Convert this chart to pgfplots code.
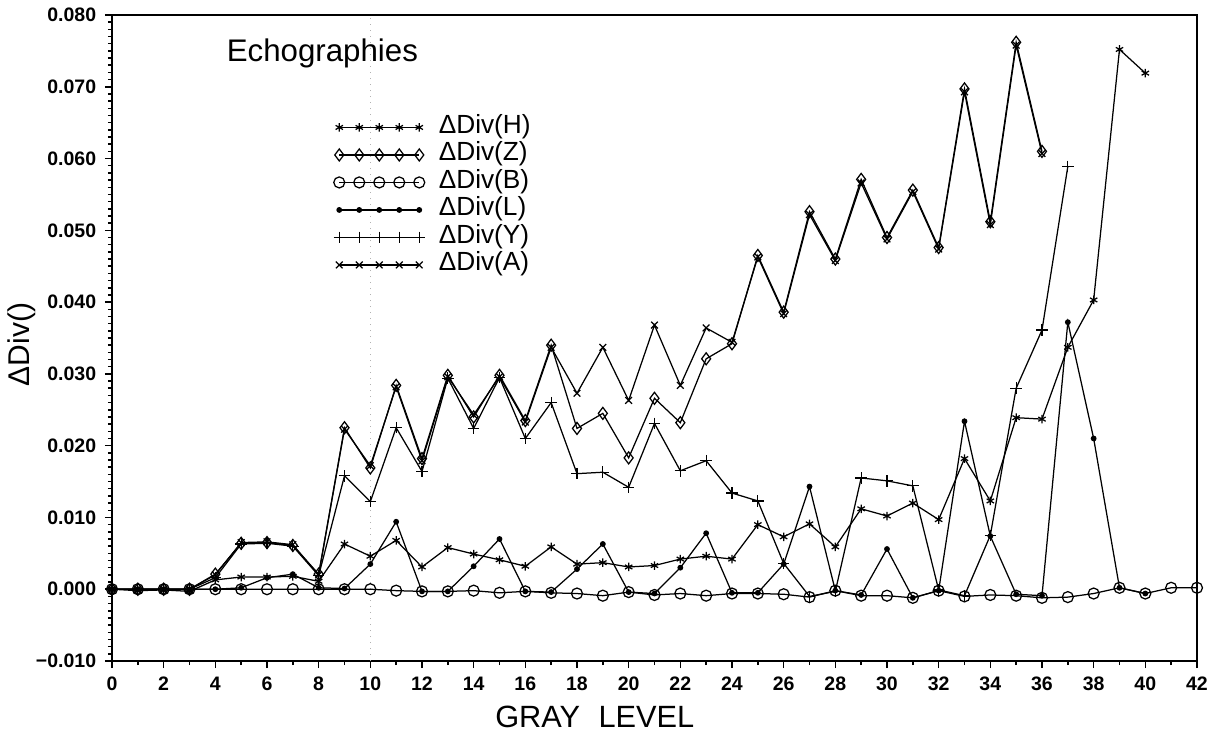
\documentclass[border=0pt]{standalone}
\usepackage{fontspec}
\setmainfont{Liberation Sans}
\usepackage{pgfplots}
\pgfplotsset{compat=1.18}
\usepackage{pgfplotstable}

\pgfplotstableread{
g v
0 0
1 -0.0002
2 -0.0001
3 -0.0003
4 0.0013
5 0.0017
6 0.0017
7 0.0018
8 0.0011
9 0.0063
10 0.0046
11 0.0068
12 0.0031
13 0.0058
14 0.0049
15 0.0041
16 0.0032
17 0.0059
18 0.0035
19 0.0037
20 0.0031
21 0.0033
22 0.0042
23 0.0046
24 0.0042
25 0.0090
26 0.0073
27 0.0091
28 0.0059
29 0.0112
30 0.0102
31 0.0120
32 0.0097
33 0.0182
34 0.0123
35 0.0239
36 0.0237
37 0.0337
38 0.0403
39 0.0752
40 0.0719
}\dataH

\pgfplotstableread{
g v
0 0
1 0
2 0
3 0
4 0.0021
5 0.0064
6 0.0065
7 0.0061
8 0.0021
9 0.0225
10 0.0169
11 0.0284
12 0.0182
13 0.0298
14 0.0240
15 0.0298
16 0.0235
17 0.0340
18 0.0224
19 0.0245
20 0.0183
21 0.0266
22 0.0232
23 0.0321
24 0.0342
25 0.0465
26 0.0386
27 0.0526
28 0.0460
29 0.0571
30 0.0490
31 0.0556
32 0.0476
33 0.0697
34 0.0512
35 0.0762
36 0.0610
}\dataZ

\pgfplotstableread{
g v
0 0
1 0
2 0
3 0
4 0
5 0
6 0
7 0
8 0
9 0
10 0
11 -0.0002
12 -0.0003
13 -0.0003
14 -0.0002
15 -0.0005
16 -0.0003
17 -0.0005
18 -0.0006
19 -0.0009
20 -0.0004
21 -0.0008
22 -0.0006
23 -0.0009
24 -0.0006
25 -0.0006
26 -0.0007
27 -0.0011
28 -0.0002
29 -0.0009
30 -0.0009
31 -0.0012
32 -0.0002
33 -0.0010
34 -0.0008
35 -0.0009
36 -0.0012
37 -0.0011
38 -0.0006
39 0.0002
40 -0.0006
41 0.0002
42 0.0002
}\dataB

\pgfplotstableread{
g v
0 0
1 0
2 0
3 0
4 0
5 0.0002
6 0.0016
7 0.0021
8 0.0002
9 0.0001
10 0.0035
11 0.0094
12 -0.0003
13 -0.0003
14 0.0032
15 0.0070
16 -0.0003
17 -0.0004
18 0.0028
19 0.0063
20 -0.0004
21 -0.0006
22 0.0030
23 0.0078
24 -0.0005
25 -0.0005
26 0.0035
27 0.0143
28 -0.0002
29 -0.0008
30 0.0056
31 -0.0012
32 -0.0002
33 0.0234
34 0.0074
35 -0.0007
36 -0.0009
37 0.0372
38 0.0210
39 0.0002
40 -0.0006
}\dataL

\pgfplotstableread{
g v
0 0
1 0
2 0
3 0
4 0.0016
5 0.0063
6 0.0064
7 0.0060
8 0.0019
9 0.0158
10 0.0122
11 0.0225
12 0.0164
13 0.0294
14 0.0224
15 0.0295
16 0.0210
17 0.0260
18 0.0161
19 0.0163
20 0.0142
21 0.0231
22 0.0165
23 0.0179
24 0.0134
25 0.0123
26 0.0036
27 -0.0010
28 -0.0003
29 0.0155
30 0.0151
31 0.0144
32 -0.0001
33 -0.0009
34 0.0075
35 0.0280
36 0.0361
37 0.0589
}\dataY

\pgfplotstableread{
g v
0 0
1 0
2 0
3 0
4 0.0020
5 0.0065
6 0.0066
7 0.0062
8 0.0020
9 0.0223
10 0.0172
11 0.0282
12 0.0179
13 0.0296
14 0.0243
15 0.0296
16 0.0233
17 0.0337
18 0.0273
19 0.0337
20 0.0263
21 0.0368
22 0.0284
23 0.0364
24 0.0344
25 0.0463
26 0.0384
27 0.0522
28 0.0458
29 0.0566
30 0.0488
31 0.0554
32 0.0474
33 0.0693
34 0.0508
35 0.0758
36 0.0607
}\dataA

\begin{document}
\begin{tikzpicture}
\useasboundingbox (-44.8pt,-28pt) rectangle (443.2pt,264.4pt);
\begin{axis}[
  at={(0,0)}, anchor=south west,
  scale only axis, width=434pt, height=258.4pt,
  xmin=0, xmax=42, ymin=-0.01, ymax=0.08,
  xtick={0,2,...,42}, minor x tick num=1,
  ytick={-0.01,0,0.01,0.02,0.03,0.04,0.05,0.06,0.07,0.08},
  yticklabels={−0.010,0.000,0.010,0.020,0.030,0.040,0.050,0.060,0.070,0.080},
  minor y tick num=9,
  tick align=outside, xtick pos=bottom, ytick pos=left,
  major tick length=2.8pt, minor tick length=1.6pt,
  every tick/.style={black, line width=0.6pt},
  axis line style={line width=1.1pt},
  tick label style={font=\fontsize{7.8}{9}\selectfont\bfseries},
  /pgf/number format/assume math mode=true,
  scaled y ticks=false,
  xlabel={GRAY\hspace{0.6em}LEVEL},
  xlabel style={font=\fontsize{12.3}{14}\selectfont, at={(axis description cs:0.445,0)}, anchor=center, yshift=-22.4pt},
  ylabel={ΔDiv()},
  ylabel style={font=\fontsize{12}{14}\selectfont, at={(axis description cs:-0.083,0.49)}, anchor=center},
  legend style={at={(0.2037,0.848)}, anchor=north west, draw=none, fill=none, inner sep=0pt,
    font=\fontsize{10.5}{12}\selectfont, nodes={inner sep=1pt, text height=6.9pt, text depth=2.1pt}, row sep=0pt,
    /tikz/every odd column/.append style={column sep=4.5pt}},
  legend cell align=left,
  legend image code/.code={\draw[mark repeat=1,#1] plot coordinates {(0pt,0pt) (8pt,0pt) (16pt,0pt) (24pt,0pt) (32pt,0pt)};},
  clip=false,
  every axis plot/.append style={line width=0.5pt, black},
]
\draw[gray!60, dotted, line width=0.4pt] (axis cs:10,-0.01) -- (axis cs:10,0.08);
\addplot[mark=asterisk, mark size=1.7pt, mark options={solid}] table[x=g,y=v] {\dataH};
\addlegendentry{ΔDiv(H)}
\addplot[mark=diamond, mark size=2.4pt, mark options={solid}] table[x=g,y=v] {\dataZ};
\addlegendentry{ΔDiv(Z)}
\addplot[mark=o, mark size=2.2pt, mark options={solid}] table[x=g,y=v] {\dataB};
\addlegendentry{ΔDiv(B)}
\addplot[mark=*, mark size=0.9pt, mark options={solid, fill=black}] table[x=g,y=v] {\dataL};
\addlegendentry{ΔDiv(L)}
\addplot[mark=+, mark size=2.3pt, mark options={solid}] table[x=g,y=v] {\dataY};
\addlegendentry{ΔDiv(Y)}
\addplot[mark=x, mark size=1.9pt, mark options={solid}] table[x=g,y=v] {\dataA};
\addlegendentry{ΔDiv(A)}
\node[anchor=west, font=\fontsize{12.5}{14}\selectfont] at (axis description cs:0.0977,0.941) {Echographies};
\end{axis}
\end{tikzpicture}
\end{document}
